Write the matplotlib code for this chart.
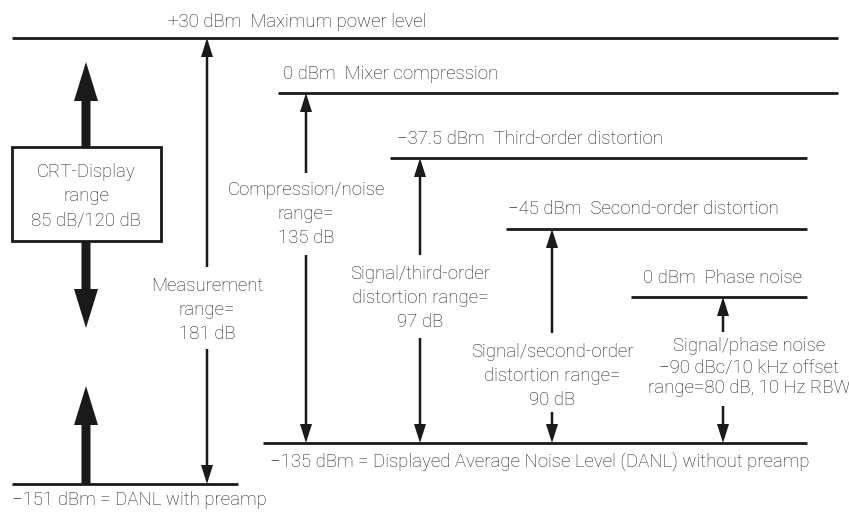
import matplotlib
matplotlib.use('Agg')
import matplotlib.pyplot as plt
from matplotlib.patches import FancyArrow, Rectangle

plt.rcParams['font.family'] = ['Roboto', 'DejaVu Sans']
plt.rcParams['font.weight'] = 'light'

# 各功率位準（文字、線的位置）
level_labels = ['+30 dBm  Maximum power level',
                '0 dBm  Mixer compression',
                '\u221237.5 dBm  Third-order distortion',
                '\u221245 dBm  Second-order distortion',
                '0 dBm  Phase noise',
                '\u2212135 dBm = Displayed Average Noise Level (DANL) without preamp',
                '\u2212151 dBm = DANL with preamp']
level_y = [38, 93, 158, 229, 297, 443, 484]
level_x0 = [12, 278, 390, 506, 631, 263, 12]
level_x1 = [838, 838, 807, 807, 807, 807, 238]
label_x = [168, 283, 397, 508, 643, 270, 12]
label_y = [22, 74, 139, 209, 278, 463, 500]

# 各動態範圍箭頭
range_labels = ['Measurement\nrange=\n181 dB',
                'Compression/noise\nrange=\n135 dB',
                'Signal/third-order\ndistortion range=\n97 dB',
                'Signal/second-order\ndistortion range=\n90 dB',
                'Signal/phase noise\n\u221290 dBc/10 kHz offset\nrange=80 dB, 10 Hz RBW']
range_top = [0, 1, 2, 3, 4]     # 上方位準的索引
range_bottom = [6, 5, 5, 5, 5]  # 下方位準的索引
arrow_x = [207, 306, 420, 552, 723]
gap_top = [267, 173, 255, 333, 332]
gap_bottom = [349, 255, 338, 412, 406]
text_x = [207, 306, 420, 552, 749]
text_y = [310, 214, 298, 376, 367]
text_spacing = [1.45, 1.45, 1.45, 1.45, 1.2]

crt_label = 'CRT-Display\nrange\n85 dB/120 dB'

line_color = '#1a1a1a'
text_color = '#1e1e1e'
fs = 13.4

fig = plt.figure(figsize=(8.49, 5.17), dpi=100)
ax = fig.add_axes([0, 0, 1, 1])
ax.set_xlim(0, 849)
ax.set_ylim(517, 0)
ax.axis('off')

# 位準線與文字
for i in range(len(level_labels)):
    ax.plot([level_x0[i], level_x1[i]], [level_y[i], level_y[i]], color=line_color, lw=2.0,
            solid_capstyle='butt')
    ax.text(label_x[i], label_y[i], level_labels[i], fontsize=fs, color=text_color,
            ha='left', va='center')

def thin_arrow(x, y_from, y_to):
    ax.add_patch(FancyArrow(x, y_from, 0, y_to - y_from, width=2.5, head_width=12,
                            head_length=19, length_includes_head=True,
                            color=line_color, lw=0))

for i in range(len(range_labels)):
    x = arrow_x[i]
    thin_arrow(x, gap_top[i], level_y[range_top[i]])
    thin_arrow(x, gap_bottom[i], level_y[range_bottom[i]])
    ax.text(text_x[i], text_y[i], range_labels[i], fontsize=fs, color=text_color,
            ha='center', va='center', linespacing=text_spacing[i], multialignment='center')

# CRT 顯示範圍方塊與粗箭頭
ax.add_patch(Rectangle((12, 147), 149, 94, fill=False, ec=line_color, lw=2.0))
ax.text(86, 196, crt_label, fontsize=fs, color=text_color, ha='center', va='center',
        linespacing=1.45, multialignment='center')

def thick_arrow(x, y_from, y_to):
    ax.add_patch(FancyArrow(x, y_from, 0, y_to - y_from, width=9, head_width=24,
                            head_length=39, length_includes_head=True,
                            color=line_color, lw=0))

thick_arrow(86, 147, 62)
thick_arrow(86, 241, 328)
thick_arrow(86, 484, 386)

fig.savefig('out.png', dpi=100)
